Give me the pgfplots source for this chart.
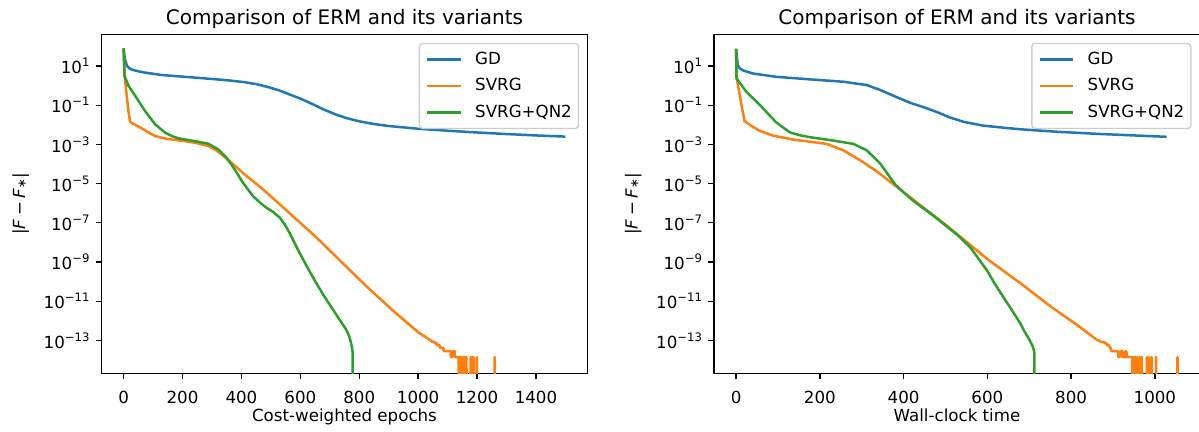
\documentclass[border=0pt]{standalone}
\usepackage{fontspec}
\setmainfont{DejaVu Sans}
\usepackage{pgfplots}
\pgfplotsset{compat=1.18}
\definecolor{tabblue}{HTML}{1F77B4}
\definecolor{taborange}{HTML}{FF7F0E}
\definecolor{tabgreen}{HTML}{2CA02C}
\definecolor{legedge}{HTML}{CCCCCC}
\newcommand{\tfont}{\fontsize{10bp}{12bp}\selectfont}
\newcommand{\tsup}[1]{\raisebox{0.42em}{\fontsize{7bp}{8bp}\selectfont #1}}
\newcommand{\ylab}{|\textit{F}\hspace{0.22em}−\hspace{0.22em}\textit{F}\raisebox{-0.05em}{\fontsize{7bp}{8bp}\selectfont ∗}|}
\pgfplotsset{legend image code/.code={\draw[#1, line width=1.5bp] (0bp,0bp) -- (20bp,0bp);}}
\pgfplotsset{every axis/.append style={
    scale only axis, width=291.6bp, height=203.3bp,
    yminorticks=false, xminorticks=false,
    tick pos=left, tick align=outside,
    major tick length=3.5bp,
    every tick/.style={black, line width=0.8bp},
    axis line style={black, line width=0.8bp},
    xticklabel style={font=\tfont, anchor=base, inner sep=0pt, yshift=-14.6bp},
    yticklabel style={font=\tfont, anchor=base east, inner sep=0pt, xshift=-3.5bp, yshift=-4.6bp},
    title style={font=\fontsize{12bp}{14bp}\selectfont, at={(axis description cs:0.5,1)}, anchor=base, inner sep=0pt},
    xlabel style={font=\tfont, at={(axis description cs:0.5,0)}, anchor=base, inner sep=0pt, yshift=-28.8bp},
    ylabel style={at={(axis description cs:0,0.5)}, anchor=center, inner sep=0pt, font=\tfont, yshift=48.5bp},
    legend style={at={(axis description cs:1,1)}, anchor=north east, xshift=-5bp, yshift=-5bp,
      draw=legedge, line width=0.8bp, rounded corners=2bp, fill=white, fill opacity=0.8, text opacity=1,
      font=\tfont, inner xsep=4bp, inner ysep=4bp, row sep=5bp, column sep=8bp,
      nodes={inner sep=0pt, text height=8.5bp, text depth=2.5bp}},
    legend cell align=left,
}}
\pgfplotsset{every axis plot/.append style={line width=1.5bp, line join=round}}
\begin{document}
\begin{tikzpicture}
\useasboundingbox (0,0) rectangle (719.4bp,259.2bp);
% ---------------- left panel ----------------
\begin{axis}[at={(60.9bp,35.2bp)}, anchor=south west,
  ymode=log, ymin=2.09e-15, ymax=407,
  ytick={1e1,1e-1,1e-3,1e-5,1e-7,1e-9,1e-11,1e-13},
  yticklabels={10\tsup{1},10\tsup{−1},10\tsup{−3},10\tsup{−5},10\tsup{−7},10\tsup{−9},10\tsup{−11},10\tsup{−13}},
  unbounded coords=jump,
  xmin=-75, xmax=1575,
  xtick={0,200,400,600,800,1000,1200,1400},
  xticklabels={0,200,400,600,800,1000,1200,1400},
  title={Comparison of ERM and its variants},
  ylabel={\ylab},
  xlabel={Cost-weighted epochs}]
\addplot[tabblue] coordinates {(0,79.4) (3,31.6) (6,19.1) (11,10.5) (20,7.59) (30,6.46) (50,5.37) (75,4.57) (130,3.47) (200,2.88) (250,2.51) (300,2.19) (355,1.86) (410,1.51) (450,1.20) (490,0.851) (530,0.562) (560,0.372) (600,0.219) (640,0.117) (680,6.03e-2) (720,3.39e-2) (760,2.14e-2) (800,1.51e-2) (850,1.10e-2) (900,8.71e-3) (1000,6.31e-3) (1100,5.01e-3) (1200,4.07e-3) (1300,3.39e-3) (1400,2.88e-3) (1500,2.51e-3)};
\addlegendentry{GD}
\addplot[taborange] coordinates {(0,79.4) (4,2.82) (10,0.398) (16,5.62e-2) (22,1.45e-2) (30,1.17e-2) (40,1.00e-2) (62,6.61e-3) (85,3.98e-3) (107,2.69e-3) (141,2.00e-3) (186,1.62e-3) (242,1.23e-3) (287,8.32e-4) (315,5.01e-4) (340,2.51e-4) (366,1.17e-4) (411,2.95e-5) (468,6.03e-6) (557,3.80e-7) (650,2.09e-8) (750,7.08e-10) (833,4.37e-11) (920,2.82e-12) (1002,2.51e-13) (1025,1.51e-13) (1040,1.05e-13) (1048,8.51e-14) (1056,8.51e-14) (1057,7.08e-14) (1064,7.08e-14) (1065,5.62e-14) (1073,5.62e-14) (1074,4.17e-14) (1086,4.17e-14) (1087,2.82e-14) (1110,2.82e-14) (1111,1.41e-14) (1116,1.41e-14) (1117,2.82e-14) (1124,2.82e-14) (1125,1.41e-14) (1137,1.41e-14) (1139,1e-20) (1141,1.41e-14) (1143,1e-20) (1145,1.41e-14) (1147,1e-20) (1150,1.41e-14) (1152,1e-20) (1155,1.41e-14) (1157,1e-20) (1160,1.41e-14) (1162,1e-20) (1164,1.41e-14) (1166,1e-20) (1170,nan) (1176,1e-20) (1178,1.41e-14) (1180,1e-20) (1184,1.41e-14) (1186,1e-20) (1188,1.41e-14) (1190,1e-20) (1194,nan) (1197,1e-20) (1199,1.41e-14) (1201,1e-20) (1230,nan) (1258,1e-20) (1260,1.41e-14) (1262,1e-20)};
\addlegendentry{SVRG}
\addplot[tabgreen] coordinates {(0,79.4) (3,3.16) (17,0.955) (40,0.295) (73,5.01e-2) (107,1.07e-2) (141,3.98e-3) (165,2.63e-3) (186,2.04e-3) (242,1.48e-3) (287,1.10e-3) (321,5.62e-4) (349,2.14e-4) (377,5.37e-5) (405,1.12e-5) (439,2.34e-6) (462,1.12e-6) (484,6.03e-7) (508,3.55e-7) (530,1.86e-7) (547,8.32e-8) (563,3.16e-8) (597,3.02e-9) (625,5.01e-10) (653,8.91e-11) (680,1.91e-11) (710,3.89e-12) (735,1.05e-12) (755,3.72e-13) (765,1.78e-13) (772,7.76e-14) (776,3.98e-14) (777.5,2.51e-14) (778,1e-20)};
\addlegendentry{SVRG+QN2}
\end{axis}
% ---------------- right panel ----------------
\begin{axis}[at={(428.4bp,35.2bp)}, anchor=south west,
  ymode=log, ymin=2.09e-15, ymax=407,
  ytick={1e1,1e-1,1e-3,1e-5,1e-7,1e-9,1e-11,1e-13},
  yticklabels={10\tsup{1},10\tsup{−1},10\tsup{−3},10\tsup{−5},10\tsup{−7},10\tsup{−9},10\tsup{−11},10\tsup{−13}},
  unbounded coords=jump,
  xmin=-52.75, xmax=1107.75,
  xtick={0,200,400,600,800,1000},
  xticklabels={0,200,400,600,800,1000},
  title={Comparison of ERM and its variants},
  ylabel={\ylab},
  xlabel={Wall-clock time}]
\addplot[tabblue] coordinates {(0,75.9) (2,28.2) (4,10.7) (9,7.59) (16,6.03) (40,4.17) (96,2.82) (176,2.09) (256,1.58) (312,1.07) (344,0.603) (376,0.302) (416,0.132) (448,7.94e-2) (480,4.47e-2) (510,2.40e-2) (544,1.41e-2) (590,9.12e-3) (640,7.08e-3) (681,5.89e-3) (771,4.37e-3) (862,3.47e-3) (950,2.88e-3) (1028,2.45e-3)};
\addlegendentry{GD}
\addplot[taborange] coordinates {(0,75.9) (1,2.82) (12,0.132) (20,1.58e-2) (36,8.91e-3) (56,5.01e-3) (88,2.82e-3) (136,1.78e-3) (216,1.07e-3) (256,5.01e-4) (296,1.58e-4) (336,4.17e-5) (372,1.07e-5) (416,2.00e-6) (440,7.94e-7) (504,6.92e-8) (600,1.41e-9) (680,7.94e-11) (750,5.62e-12) (820,5.01e-13) (860,1.12e-13) (872,8.51e-14) (879,8.51e-14) (880,7.08e-14) (885,7.08e-14) (886,5.62e-14) (891,5.62e-14) (892,4.17e-14) (895,4.17e-14) (896,2.82e-14) (912,2.82e-14) (913,1.41e-14) (916,1.41e-14) (917,2.82e-14) (922,2.82e-14) (923,1.41e-14) (928,1.41e-14) (929,2.82e-14) (932,2.82e-14) (933,1.41e-14) (946,1.41e-14) (948,1e-20) (950,1.41e-14) (952,1e-20) (954,1.41e-14) (956,1e-20) (959,1.41e-14) (961,1e-20) (964,1.41e-14) (966,1e-20) (969,1.41e-14) (971,1e-20) (975,nan) (979,1e-20) (981,1.41e-14) (983,1e-20) (986,1.41e-14) (988,1e-20) (992,1.41e-14) (994,1e-20) (997,nan) (1001,1e-20) (1003,1.41e-14) (1005,1e-20) (1030,nan) (1052,1e-20) (1054,1.41e-14) (1056,1e-20)};
\addlegendentry{SVRG}
\addplot[tabgreen] coordinates {(0,75.9) (1,2.34) (24,0.501) (56,0.107) (96,1.32e-2) (128,4.17e-3) (150,3.02e-3) (176,2.34e-3) (232,1.58e-3) (280,1.07e-3) (312,5.01e-4) (344,1.07e-4) (360,3.55e-5) (380,8.91e-6) (400,3.55e-6) (420,1.51e-6) (440,7.08e-7) (470,2.40e-7) (504,6.31e-8) (530,2.24e-8) (560,5.37e-9) (600,3.47e-10) (616,8.91e-11) (640,1.41e-11) (660,3.16e-12) (680,6.61e-13) (688,3.02e-13) (700,1.12e-13) (708,5.13e-14) (711,3.16e-14) (712,2.34e-14) (712.5,1e-20)};
\addlegendentry{SVRG+QN2}
\end{axis}
\end{tikzpicture}
\end{document}
